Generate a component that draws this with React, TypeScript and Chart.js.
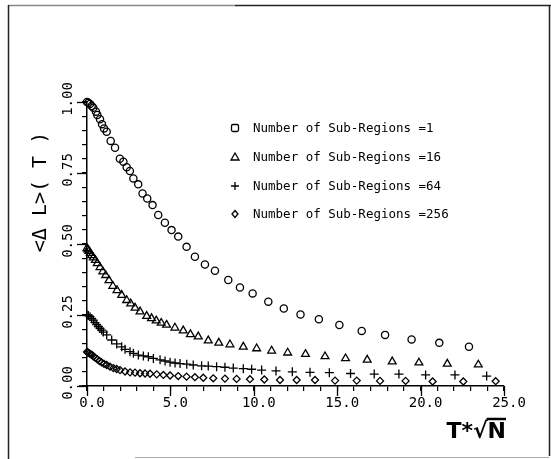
import React, { useEffect, useRef } from 'react';
import { Chart, registerables } from 'chart.js';

Chart.register(...registerables);

// Number of Sub-Regions = 1 (circles)
const sub1X = [0, 0.08, 0.18, 0.28, 0.38, 0.54, 0.62, 0.78, 0.9, 1.02, 1.18, 1.42, 1.68, 1.97, 2.18, 2.38, 2.57, 2.78, 3.07, 3.33, 3.61, 3.93, 4.27, 4.67, 5.07, 5.47, 5.97, 6.47, 7.07, 7.67, 8.47, 9.17, 9.93, 10.87, 11.8, 12.8, 13.9, 15.13, 16.47, 17.87, 19.46, 21.12, 22.9];
const sub1Y = [1.0, 0.997, 0.993, 0.986, 0.98, 0.966, 0.954, 0.939, 0.922, 0.907, 0.895, 0.863, 0.839, 0.8, 0.79, 0.77, 0.757, 0.731, 0.71, 0.678, 0.66, 0.637, 0.602, 0.575, 0.549, 0.526, 0.49, 0.455, 0.428, 0.406, 0.373, 0.347, 0.326, 0.297, 0.273, 0.252, 0.235, 0.215, 0.194, 0.18, 0.164, 0.152, 0.138];

// Number of Sub-Regions = 16 (triangles)
const sub16X = [0, 0.05, 0.12, 0.2, 0.28, 0.38, 0.5, 0.62, 0.78, 0.95, 1.12, 1.32, 1.55, 1.8, 2.08, 2.38, 2.62, 2.88, 3.18, 3.58, 3.87, 4.15, 4.45, 4.77, 5.27, 5.77, 6.2, 6.67, 7.27, 7.9, 8.57, 9.37, 10.17, 11.07, 12.03, 13.1, 14.27, 15.5, 16.8, 18.3, 19.9, 21.6, 23.46];
const sub16Y = [0.485, 0.48, 0.475, 0.468, 0.46, 0.452, 0.443, 0.432, 0.418, 0.403, 0.39, 0.372, 0.352, 0.337, 0.32, 0.302, 0.29, 0.275, 0.262, 0.246, 0.238, 0.23, 0.222, 0.215, 0.205, 0.195, 0.182, 0.174, 0.16, 0.152, 0.146, 0.138, 0.132, 0.124, 0.117, 0.112, 0.104, 0.097, 0.092, 0.086, 0.082, 0.078, 0.075];

// Number of Sub-Regions = 64 (plus)
const sub64X = [0, 0.08, 0.18, 0.28, 0.38, 0.48, 0.58, 0.68, 0.78, 0.88, 0.98, 1.18, 1.48, 1.78, 2.08, 2.28, 2.58, 2.78, 3.08, 3.38, 3.68, 3.98, 4.38, 4.68, 4.98, 5.28, 5.58, 5.98, 6.37, 6.87, 7.27, 7.77, 8.27, 8.77, 9.37, 9.87, 10.47, 11.33, 12.31, 13.37, 14.53, 15.8, 17.22, 18.7, 20.3, 22.06, 23.96];
const sub64Y = [0.25, 0.248, 0.244, 0.238, 0.232, 0.223, 0.216, 0.209, 0.203, 0.197, 0.19, 0.18, 0.162, 0.148, 0.138, 0.129, 0.121, 0.115, 0.109, 0.106, 0.103, 0.097, 0.092, 0.088, 0.084, 0.081, 0.079, 0.077, 0.074, 0.071, 0.07, 0.068, 0.066, 0.063, 0.061, 0.059, 0.056, 0.053, 0.05, 0.048, 0.047, 0.044, 0.042, 0.042, 0.039, 0.039, 0.035];

// Number of Sub-Regions = 256 (diamonds)
const sub256X = [0, 0.06, 0.14, 0.22, 0.3, 0.4, 0.5, 0.62, 0.75, 0.88, 1.02, 1.18, 1.38, 1.58, 1.78, 1.98, 2.28, 2.58, 2.88, 3.18, 3.48, 3.78, 4.18, 4.58, 4.98, 5.47, 5.97, 6.47, 6.97, 7.57, 8.27, 8.97, 9.77, 10.63, 11.57, 12.57, 13.67, 14.87, 16.17, 17.57, 19.1, 20.72, 22.56, 24.5];
const sub256Y = [0.12, 0.118, 0.115, 0.112, 0.109, 0.104, 0.099, 0.094, 0.088, 0.083, 0.078, 0.074, 0.068, 0.063, 0.06, 0.056, 0.051, 0.048, 0.047, 0.045, 0.044, 0.043, 0.041, 0.039, 0.037, 0.035, 0.033, 0.031, 0.029, 0.027, 0.026, 0.025, 0.024, 0.023, 0.021, 0.021, 0.021, 0.019, 0.019, 0.018, 0.018, 0.016, 0.016, 0.017];

const xMajorTicks = [0, 5, 10, 15, 20, 25];
const xTickLabels = ['0.0', '5.0', '10.0', '15.0', '20.0', '25.0'];
const yMajorTicks = [0, 0.25, 0.5, 0.75, 1.0];
const yTickLabels = ['0.00', '0.25', '0.50', '0.75', '1.00'];

const legendLabels = [
  'Number of Sub-Regions =1',
  'Number of Sub-Regions =16',
  'Number of Sub-Regions =64',
  'Number of Sub-Regions =256',
];
const yTitle = '<\u0394 L>( T )';
const xTitleMain = 'T*\u221A';
const xTitleN = 'N';

const MONO = '"DejaVu Sans Mono", "Liberation Mono", monospace';

function toPoints(xs: number[], ys: number[]) {
  return xs.map((x, i) => ({ x, y: ys[i] }));
}

function labelFor(value: number, majors: number[], labels: string[]) {
  for (let i = 0; i < majors.length; i++) {
    if (Math.abs(value - majors[i]) < 1e-6) return labels[i];
  }
  return '';
}

const decorPlugin = {
  id: 'decor',
  afterDraw(chart: any) {
    const ctx = chart.ctx as CanvasRenderingContext2D;
    const area = chart.chartArea;
    const xs = chart.scales.x;
    const ys = chart.scales.y;
    ctx.save();

    // page frame
    ctx.lineWidth = 1.5;
    ctx.strokeStyle = '#888';
    ctx.beginPath();
    ctx.moveTo(8, 5.5);
    ctx.lineTo(235, 5.5);
    ctx.stroke();
    ctx.strokeStyle = '#222';
    ctx.beginPath();
    ctx.moveTo(235, 5.5);
    ctx.lineTo(551, 5.5);
    ctx.stroke();
    ctx.beginPath();
    ctx.moveTo(8.5, 5);
    ctx.lineTo(8.5, 459);
    ctx.stroke();
    ctx.beginPath();
    ctx.moveTo(549.5, 5);
    ctx.lineTo(549.5, 456);
    ctx.stroke();
    ctx.strokeStyle = '#aaa';
    ctx.lineWidth = 1;
    ctx.beginPath();
    ctx.moveTo(135, 457.5);
    ctx.lineTo(549, 457.5);
    ctx.stroke();

    // x axis line stub extending left of the y axis
    ctx.strokeStyle = '#000';
    ctx.lineWidth = 1.5;
    ctx.beginPath();
    ctx.moveTo(area.left - 8, area.bottom);
    ctx.lineTo(area.left, area.bottom);
    ctx.stroke();

    // longer major ticks
    ctx.lineWidth = 1.3;
    xMajorTicks.forEach((v) => {
      const px = Math.round(xs.getPixelForValue(v)) + 0.5;
      ctx.beginPath();
      ctx.moveTo(px, area.bottom);
      ctx.lineTo(px, area.bottom + 10);
      ctx.stroke();
    });
    yMajorTicks.forEach((v) => {
      const py = Math.round(ys.getPixelForValue(v)) + 0.5;
      ctx.beginPath();
      ctx.moveTo(area.left, py);
      ctx.lineTo(area.left - 10, py);
      ctx.stroke();
    });

    // legend
    const lx = 235;
    const rows = [128, 157, 186, 214];
    ctx.lineWidth = 1.3;
    ctx.strokeStyle = '#000';
    ctx.fillStyle = '#000';
    {
      const y = rows[0];
      const r = 1.5;
      const s = 3.5;
      ctx.beginPath();
      ctx.moveTo(lx - s + r, y - s);
      ctx.lineTo(lx + s - r, y - s);
      ctx.quadraticCurveTo(lx + s, y - s, lx + s, y - s + r);
      ctx.lineTo(lx + s, y + s - r);
      ctx.quadraticCurveTo(lx + s, y + s, lx + s - r, y + s);
      ctx.lineTo(lx - s + r, y + s);
      ctx.quadraticCurveTo(lx - s, y + s, lx - s, y + s - r);
      ctx.lineTo(lx - s, y - s + r);
      ctx.quadraticCurveTo(lx - s, y - s, lx - s + r, y - s);
      ctx.stroke();
    }
    {
      const y = rows[1];
      ctx.beginPath();
      ctx.moveTo(lx, y - 4);
      ctx.lineTo(lx + 4, y + 3);
      ctx.lineTo(lx - 4, y + 3);
      ctx.closePath();
      ctx.stroke();
    }
    {
      const y = rows[2];
      ctx.beginPath();
      ctx.moveTo(lx - 4, y);
      ctx.lineTo(lx + 4, y);
      ctx.moveTo(lx, y - 4);
      ctx.lineTo(lx, y + 4);
      ctx.stroke();
    }
    {
      const y = rows[3];
      ctx.beginPath();
      ctx.moveTo(lx, y - 3.5);
      ctx.lineTo(lx + 3, y);
      ctx.lineTo(lx, y + 3.5);
      ctx.lineTo(lx - 3, y);
      ctx.closePath();
      ctx.stroke();
    }
    ctx.font = '12.5px ' + MONO;
    ctx.textAlign = 'left';
    ctx.textBaseline = 'middle';
    legendLabels.forEach((t, i) => ctx.fillText(t, 253, rows[i] + 1));

    // y title
    ctx.save();
    ctx.translate(41, 192);
    ctx.rotate(-Math.PI / 2);
    ctx.font = '20px ' + MONO;
    ctx.textAlign = 'center';
    ctx.textBaseline = 'middle';
    ctx.fillText(yTitle, 0, 0);
    ctx.restore();

    // x title
    ctx.font = 'bold 22px "DejaVu Sans", sans-serif';
    ctx.textAlign = 'left';
    ctx.textBaseline = 'alphabetic';
    const wMain = ctx.measureText(xTitleMain).width;
    const wN = ctx.measureText(xTitleN).width;
    const x0 = 506 - wMain - wN;
    ctx.fillText(xTitleMain, x0, 438);
    ctx.fillText(xTitleN, x0 + wMain, 438);
    ctx.lineWidth = 2.5;
    ctx.beginPath();
    ctx.moveTo(x0 + wMain - 1, 419);
    ctx.lineTo(x0 + wMain + wN, 419);
    ctx.stroke();

    ctx.restore();
  },
};

export default function App() {
  const ref = useRef<HTMLCanvasElement | null>(null);

  useEffect(() => {
    if (!ref.current) return;
    const common = {
      showLine: false,
      borderColor: '#000',
      backgroundColor: 'rgba(0,0,0,0)',
      borderWidth: 1.3,
      clip: false as const,
    };
    const chart = new Chart(ref.current, {
      type: 'scatter',
      data: {
        datasets: [
          { ...common, label: legendLabels[0], data: toPoints(sub1X, sub1Y), pointStyle: 'circle', pointRadius: 3.6 },
          { ...common, label: legendLabels[1], data: toPoints(sub16X, sub16Y), pointStyle: 'triangle', pointRadius: 4.5 },
          { ...common, label: legendLabels[2], data: toPoints(sub64X, sub64Y), pointStyle: 'cross', pointRadius: 4.5 },
          { ...common, label: legendLabels[3], data: toPoints(sub256X, sub256Y), pointStyle: 'rectRot', pointRadius: 3.5 },
        ],
      },
      options: {
        animation: false,
        responsive: false,
        devicePixelRatio: 1,
        layout: { padding: { left: 8, top: 102, right: 47, bottom: 33 } },
        plugins: {
          legend: { display: false },
          tooltip: { enabled: false },
          title: { display: false },
        },
        scales: {
          x: {
            type: 'linear',
            min: 0,
            max: 25,
            afterFit: (s: any) => { s.height = 40; },
            border: { display: true, color: '#000', width: 1.5 },
            grid: { display: true, drawOnChartArea: false, drawTicks: true, tickLength: 5, color: '#000', lineWidth: 1.2 },
            ticks: {
              stepSize: 1,
              autoSkip: false,
              maxRotation: 0,
              minRotation: 0,
              padding: 4,
              labelOffset: 5,
              color: '#000',
              font: { family: MONO, size: 14 },
              callback: (v: any) => labelFor(Number(v), xMajorTicks, xTickLabels),
            },
          },
          y: {
            type: 'linear',
            min: 0,
            max: 1,
            afterFit: (s: any) => { s.width = 79; },
            border: { display: true, color: '#000', width: 1.5 },
            grid: { display: true, drawOnChartArea: false, drawTicks: true, tickLength: 5, color: '#000', lineWidth: 1.2 },
            ticks: {
              stepSize: 0.05,
              autoSkip: false,
              minRotation: 90,
              maxRotation: 90,
              crossAlign: 'center',
              padding: -3,
              labelOffset: -3,
              color: '#000',
              font: { family: MONO, size: 14 },
              callback: (v: any) => labelFor(Number(v), yMajorTicks, yTickLabels),
            },
          },
        },
      },
      plugins: [decorPlugin],
    } as any);
    return () => chart.destroy();
  }, []);

  return (
    <div style={{ position: 'fixed', left: 0, top: 0, width: 551, height: 459, background: '#fff' }}>
      <canvas ref={ref} width={551} height={459} style={{ width: 551, height: 459, display: 'block' }} />
    </div>
  );
}
